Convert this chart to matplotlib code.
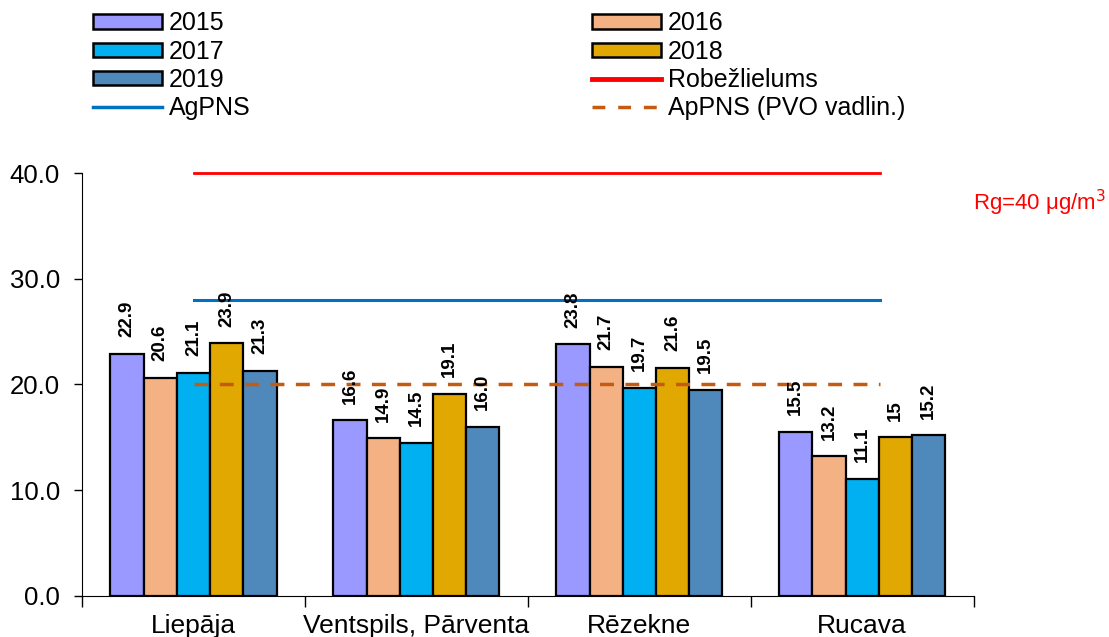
import matplotlib.pyplot as plt
import numpy as np
from matplotlib.patches import Patch
from matplotlib.lines import Line2D

plt.rcParams['font.family'] = ['Liberation Sans', 'DejaVu Sans']

stations = ["Liepāja", "Ventspils, Pārventa", "Rēzekne", "Rucava"]
years = ["2015", "2016", "2017", "2018", "2019"]
v2015 = [22.9, 16.6, 23.8, 15.5]
v2016 = [20.6, 14.9, 21.7, 13.2]
v2017 = [21.1, 14.5, 19.7, 11.1]
v2018 = [23.9, 19.1, 21.6, 15.0]
v2019 = [21.3, 16.0, 19.5, 15.2]
lab2015 = ["22.9", "16.6", "23.8", "15.5"]
lab2016 = ["20.6", "14.9", "21.7", "13.2"]
lab2017 = ["21.1", "14.5", "19.7", "11.1"]
lab2018 = ["23.9", "19.1", "21.6", "15"]
lab2019 = ["21.3", "16.0", "19.5", "15.2"]
robez = 40
agpns = 28
appns = 20

series = [v2015, v2016, v2017, v2018, v2019]
labels = [lab2015, lab2016, lab2017, lab2018, lab2019]
colors = ["#9999FF", "#F4B183", "#00B0F0", "#E0A800", "#4F88BB"]

fig = plt.figure(figsize=(11.09, 6.37), dpi=100)
ax = fig.add_axes([0.074, 0.0644, 0.804, 0.664])

x = np.arange(len(stations))
w = 0.149
for i, (vals, labs) in enumerate(zip(series, labels)):
    pos = x + (i - 2) * w
    ax.bar(pos, vals, w, color=colors[i], edgecolor="black", linewidth=1.6, zorder=2)
    for p, v, t in zip(pos, vals, labs):
        ax.annotate(t, (p, v), xytext=(0, 12), textcoords="offset points",
                    rotation=90, ha="center", va="bottom", fontsize=13.5,
                    fontweight="bold", zorder=4)

ax.plot([0, 3.08], [robez, robez], color="#FF0000", lw=2, zorder=3, clip_on=False)
ax.plot([0, 3.08], [agpns, agpns], color="#0070C0", lw=2.2, zorder=3)
ax.plot([0, 3.08], [appns, appns], color="#C55A11", lw=2.5, ls=(0, (4, 3.3)), zorder=3)

ax.set_xlim(-0.5, 3.5)
ax.set_ylim(0, 40)
ax.set_yticks([0, 10, 20, 30, 40])
ax.set_yticklabels([f"{t:.1f}" for t in [0, 10, 20, 30, 40]], fontsize=18.5)
ax.set_xticks(x)
ax.set_xticklabels(stations, fontsize=19)
ax.set_xticks(np.arange(-0.5, 4, 1), minor=True)
ax.tick_params(axis="x", which="major", length=0, pad=13)
ax.tick_params(axis="x", which="minor", length=8, width=1, direction="out")
ax.tick_params(axis="y", length=6, width=1, direction="out", pad=10)
for s in ["top", "right"]:
    ax.spines[s].set_visible(False)

fig.text(0.997, 0.681, "Rg=40 μg/m$^3$", color="#FF0000", fontsize=16,
         ha="right", va="center")

h = [Patch(facecolor=c, edgecolor="black", linewidth=1.8) for c in colors]
left_h = [h[0], h[2], h[4], Line2D([], [], color="#0070C0", lw=2.5)]
left_l = ["2015", "2017", "2019", "AgPNS"]
right_h = [h[1], h[3], Line2D([], [], color="#FF0000", lw=3.5),
           Line2D([], [], color="#C55A11", lw=2.5, ls=(0, (3.7, 3.7)))]
right_l = ["2016", "2018", "Robežlielums", "ApPNS (PVO vadlin.)"]
for hh, ll, xpos in [(left_h, left_l, 0.0839), (right_h, right_l, 0.534)]:
    fig.legend(hh, ll, loc="upper left", bbox_to_anchor=(xpos, 0.982),
               frameon=False, fontsize=18, borderpad=0, handlelength=2.75,
               handleheight=0.52, handletextpad=0.28, labelspacing=0.17,
               borderaxespad=0)

fig.savefig("out.png", dpi=100)
